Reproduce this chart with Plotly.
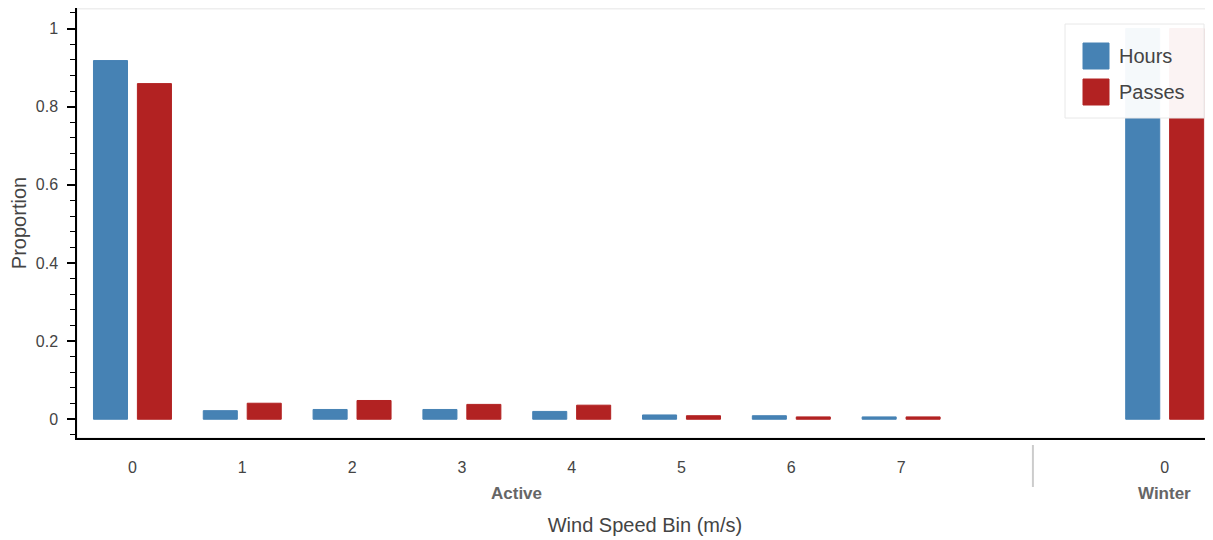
import plotly.graph_objects as go

# ---- data ----
groups = ["Active"] * 8 + ["Winter"]
bins = ["0", "1", "2", "3", "4", "5", "6", "7", "0"]
hours = [0.918, 0.022, 0.025, 0.025, 0.020, 0.011, 0.009, 0.006, 1.0]
passes = [0.859, 0.041, 0.048, 0.038, 0.036, 0.009, 0.006, 0.006, 1.0]
series_names = ["Hours", "Passes"]
series_colors = ["#4682B4", "#B22222"]

# ---- categorical positions (one unit per factor, padding between groups) ----
GROUP_PAD = 1.4
positions = []
pos = 0.0
for i, g in enumerate(groups):
    if i > 0:
        pos += 1.0
        if g != groups[i - 1]:
            pos += GROUP_PAD
    positions.append(pos)

BAR_W = 0.31
DODGE = 0.2
FONT = "Liberation Sans, Arial, Helvetica, sans-serif"

fig = go.Figure()
for name, vals, col, off in [
    (series_names[0], hours, series_colors[0], -DODGE),
    (series_names[1], passes, series_colors[1], DODGE),
]:
    fig.add_trace(go.Bar(
        x=positions, y=vals, name=name,
        width=BAR_W, offset=off - BAR_W / 2,
        marker=dict(color=col, line=dict(color=col, width=1)),
        showlegend=False,
    ))

# group labels and separators
uniq = []
for g in groups:
    if g not in uniq:
        uniq.append(g)
annotations = []
shapes = []
for g in uniq:
    ps = [p for p, gg in zip(positions, groups) if gg == g]
    annotations.append(dict(
        x=(min(ps) + max(ps)) / 2, y=-0.130, xref="x", yref="paper",
        text="<b>" + g + "</b>", showarrow=False, yanchor="middle",
        font=dict(family=FONT, size=17, color="#666666"),
    ))
for i in range(1, len(groups)):
    if groups[i] != groups[i - 1]:
        sx = (positions[i] + positions[i - 1]) / 2
        shapes.append(dict(type="line", xref="x", yref="paper",
                           x0=sx, x1=sx, y0=-0.0163, y1=-0.114,
                           line=dict(color="#cccccc", width=2)))

# plot outline
shapes.append(dict(type="rect", xref="paper", yref="paper", x0=0, x1=1, y0=0, y1=0.998,
                   line=dict(color="#e5e5e5", width=1), layer="below"))

# legend box (drawn manually)
PW, PH = 1136.0, 430.0
lx0, lx1, ly0, ly1 = (1065 - 77) / PW, (1204 - 77) / PW, (438 - 118) / PH, (438 - 24) / PH
shapes.append(dict(type="rect", xref="paper", yref="paper", x0=lx0, x1=lx1, y0=ly0, y1=ly1,
                   fillcolor="rgba(255,255,255,0.95)", line=dict(color="#e8e8e8", width=1),
                   layer="above"))
sw_x0 = (1083 - 77) / PW
sw_x1 = (1109 - 77) / PW
for k, (name, col) in enumerate(zip(series_names, series_colors)):
    cy = 56 + 36 * k
    shapes.append(dict(type="rect", xref="paper", yref="paper",
                       x0=sw_x0, x1=sw_x1,
                       y0=(438 - (cy + 13)) / PH, y1=(438 - (cy - 13)) / PH,
                       fillcolor=col, line=dict(color=col, width=1), layer="above"))
    annotations.append(dict(x=(1117 - 77) / PW, y=(438 - cy) / PH, xref="paper", yref="paper",
                            text=name, showarrow=False, xanchor="left", yanchor="middle",
                            font=dict(family=FONT, size=20, color="#444444")))

fig.update_layout(
    width=1205, height=532, autosize=False,
    margin=dict(l=69, r=0, t=0, b=102),
    plot_bgcolor="white", paper_bgcolor="white",
    barmode="overlay",
    font=dict(family=FONT, color="#444444"),
    shapes=shapes, annotations=annotations,
)
fig.update_xaxes(
    range=[-0.505, 9.84],
    tickmode="array", tickvals=positions, ticktext=bins,
    ticks="", ticklabelstandoff=14,
    tickfont=dict(family=FONT, size=16, color="#444444"),
    showline=True, linecolor="black", linewidth=1.5,
    showgrid=False, zeroline=False,
    title=dict(text="Wind Speed Bin (m/s)", standoff=43,
               font=dict(family=FONT, size=20, color="#444444")),
)
fig.update_yaxes(
    range=[-0.048, 1.0525],
    tickmode="array", tickvals=[0, 0.2, 0.4, 0.6, 0.8, 1.0],
    ticktext=["0", "0.2", "0.4", "0.6", "0.8", "1"],
    ticks="outside", ticklen=8, tickwidth=1.5, tickcolor="black",
    ticklabelstandoff=6,
    minor=dict(dtick=0.04, ticks="outside", ticklen=5, tickwidth=1, tickcolor="black", showgrid=False),
    tickfont=dict(family=FONT, size=16, color="#444444"),
    showline=True, linecolor="black", linewidth=1.5,
    showgrid=False, zeroline=False,
    title=dict(text="Proportion", standoff=5,
               font=dict(family=FONT, size=20, color="#444444")),
)

fig.write_html("out.html")
